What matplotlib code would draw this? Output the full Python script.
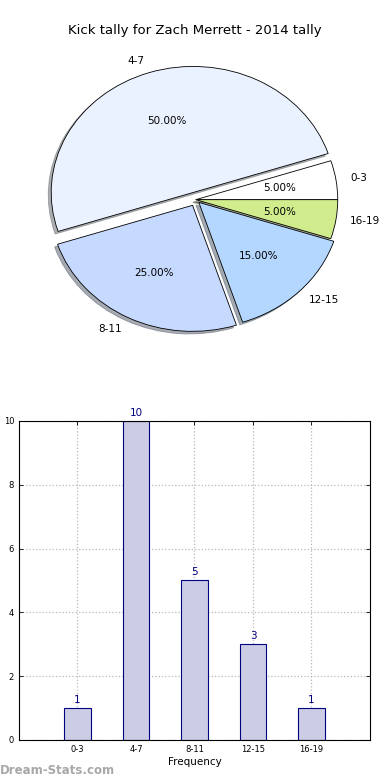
import matplotlib
matplotlib.use("Agg")
import matplotlib.pyplot as plt
import numpy as np

categories = ["0-3", "4-7", "8-11", "12-15", "16-19"]
counts = [1, 10, 5, 3, 1]
pie_colors = ["#ffffff", "#ebf2ff", "#c6d9ff", "#b4d7ff", "#d0ec8c"]
explode = [0.0, 0.06, 0.05, 0.03, 0.0]
title = "Kick tally for Zach Merrett - 2014 tally"

fig = plt.figure(figsize=(3.9, 7.8), dpi=100)

# Pie
axp = fig.add_axes([0.047, 0.542, 0.91, 0.404])
wedges, texts, autotexts = axp.pie(
    counts, labels=categories, colors=pie_colors, explode=explode,
    autopct="%1.2f%%", shadow={"ox": -0.015, "oy": -0.015, "shade": 0.6}, startangle=0,
    wedgeprops=dict(edgecolor="black", linewidth=0.6),
    textprops=dict(fontsize=7.5))
axp.set_aspect("auto")
axp.set_xlim(-1.25, 1.25)
axp.set_ylim(-1.25, 1.25)
fig.text(0.5, 0.961, title, ha="center", va="center", fontsize=9.5)

# Bars
axb = fig.add_axes([0.0487, 0.0513, 0.9, 0.409])
x = np.arange(len(categories))
axb.bar(x, counts, width=0.45, color="#ccccE5", edgecolor="#000080", linewidth=0.8, zorder=2)
for xi, c in zip(x, counts):
    axb.text(xi, c + 0.1, str(c), ha="center", va="bottom", color="#000080", fontsize=7.5)
axb.set_xlim(-1, 5)
axb.set_ylim(0, 10)
axb.set_xticks(x)
axb.set_xticklabels(categories)
axb.set_yticks(np.arange(0, 11, 2))
axb.tick_params(labelsize=6, direction="in", top=True, right=True, length=3, width=0.6)
axb.grid(True, linestyle=":", color="#b8b8b8", linewidth=0.9, zorder=0)
axb.set_axisbelow(True)
axb.set_xlabel("Frequency", fontsize=7.5, labelpad=2)
axb.set_ylabel("Total Kick Tally", fontsize=7.5)
axb.yaxis.set_label_coords(-0.06, 0.5)

fig.text(0.0, 0.012, "Dream-Stats.com", ha="left", va="center", fontsize=8.5,
         color="#a8a8a8", fontweight="bold")

fig.savefig("out.png", dpi=100)
